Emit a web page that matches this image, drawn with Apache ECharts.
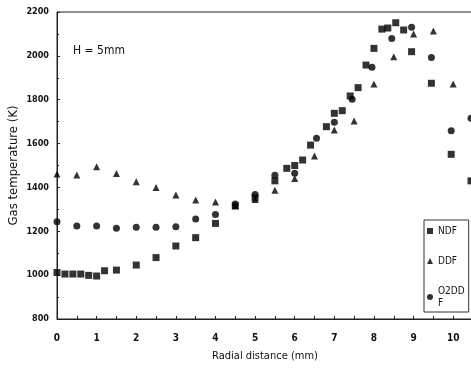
<!DOCTYPE html>
<html><head><meta charset="utf-8">
<script src="https://cdn.jsdelivr.net/npm/echarts@6/dist/echarts.min.js"></script>
<style>html,body{margin:0;padding:0;background:#fff}#c{width:471px;height:374px}</style>
</head><body><div id="c"></div>
<script>
// NDF (squares)
const ndfX = [0,0.2,0.4,0.6,0.8,1,1.2,1.5,2,2.5,3,3.5,4,4.5,5,5.5,5.8,6,6.2,6.4,6.8,7,7.2,7.4,7.6,7.8,8,8.2,8.35,8.55,8.75,8.95,9.45,9.95,10.45];
const ndfY = [1012,1005,1005,1005,999,996,1020,1023,1046,1080,1133,1171,1236,1315,1352,1430,1487,1500,1525,1593,1677,1738,1750,1817,1855,1958,2034,2122,2127,2151,2118,2019,1875,1551,1430];
// DDF (triangles)
const ddfX = [0,0.5,1,1.5,2,2.5,3,3.5,4,4.5,5,5.5,6,6.5,7,7.5,8,8.5,9,9.5,10];
const ddfY = [1461,1457,1494,1464,1426,1400,1365,1343,1334,1318,1345,1387,1441,1543,1662,1703,1872,1996,2100,2113,1872];
// O2DDF (circles)
const o2X = [0,0.5,1,1.5,2,2.5,3,3.5,4,4.5,5,5.5,6,6.55,7,7.45,7.95,8.45,8.95,9.45,9.95,10.45];
const o2Y = [1244,1224,1224,1214,1218,1218,1221,1256,1276,1325,1368,1455,1465,1624,1697,1802,1948,2079,2130,1992,1659,1715];
const yTicks = [800,1000,1200,1400,1600,1800,2000,2200];
const xTicks = [0,1,2,3,4,5,6,7,8,9,10];

const font = "'Liberation Sans Narrow','DejaVu Sans Condensed','Liberation Sans',sans-serif";
const zip = (xs, ys) => xs.map((x, i) => [x, ys[i]]);
const chart = echarts.init(document.getElementById('c'));
chart.setOption({
  animation: false,
  grid: {left: 57, right: -2, top: 12, bottom: 55, containLabel: false, outerBoundsMode: 'none',
    show: true, borderColor: '#222', borderWidth: 1},
  xAxis: {
    type: 'value', min: 0, max: 10.5, interval: 0.5,
    name: 'Radial distance (mm)', nameLocation: 'middle', nameGap: 32, nameMoveOverlap: false,
    nameTextStyle: {color: '#111', fontSize: 11, fontFamily: font},
    axisLine: {show: true, lineStyle: {color: '#222', width: 1}},
    axisTick: {show: true, inside: true, length: 3, lineStyle: {color: '#222'}},
    splitLine: {show: false},
    axisLabel: {color: '#111', fontSize: 10, fontFamily: font, fontWeight: 'bold', margin: 14,
      formatter: v => xTicks.includes(v) ? String(v) : ''}
  },
  yAxis: {
    type: 'value', min: 800, max: 2200, interval: 200,
    name: 'Gas temperature (K)', nameLocation: 'middle', nameGap: 37, nameMoveOverlap: false,
    nameTextStyle: {color: '#111', fontSize: 13, fontFamily: font},
    axisLine: {show: true, lineStyle: {color: '#222', width: 1}},
    axisTick: {show: true, inside: true, length: 3, lineStyle: {color: '#222'}},
    minorTick: {show: true, splitNumber: 2, length: 2, lineStyle: {color: '#222'}},
    splitLine: {show: false},
    axisLabel: {color: '#111', fontSize: 9, fontFamily: font, fontWeight: 'bold', margin: 8,
      formatter: v => yTicks.includes(v) ? String(v) : ''}
  },
  legend: {
    orient: 'vertical', left: 424, top: 220, width: 40,
    backgroundColor: '#fff', borderColor: '#333', borderWidth: 1, padding: [5, 4, 3, 3],
    itemWidth: 6, itemHeight: 6, itemGap: 18,
    textStyle: {color: '#111', fontSize: 10, fontFamily: font, lineHeight: 12},
    formatter: n => n === 'O2DDF' ? 'O2DD\nF' : n,
    data: [{name: 'NDF', icon: 'rect'}, {name: 'DDF', icon: 'triangle'}, {name: 'O2DDF', icon: 'circle'}]
  },
  graphic: [{type: 'text', left: 73, top: 45, style: {text: 'H = 5mm', fill: '#111', fontSize: 12, fontFamily: font}}],
  series: [
    {name: 'NDF', type: 'scatter', symbol: 'rect', symbolSize: 7, itemStyle: {color: '#000'}, data: zip(ndfX, ndfY)},
    {name: 'DDF', type: 'scatter', symbol: 'triangle', symbolSize: 7, itemStyle: {color: '#000'}, data: zip(ddfX, ddfY)},
    {name: 'O2DDF', type: 'scatter', symbol: 'circle', symbolSize: 7, itemStyle: {color: '#000'}, data: zip(o2X, o2Y)}
  ]
});
</script></body></html>
